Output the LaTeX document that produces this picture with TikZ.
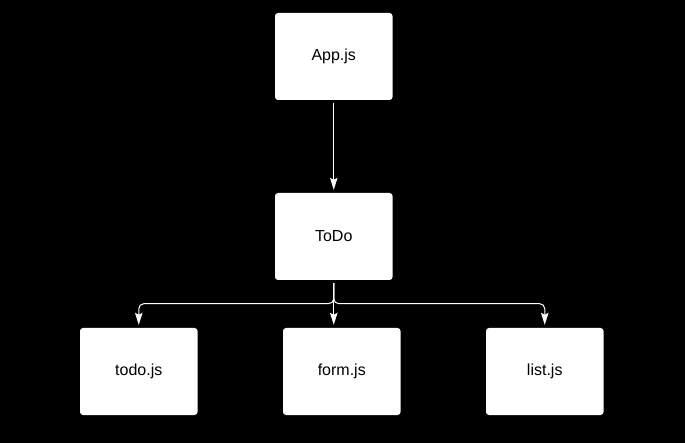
\documentclass[tikz,border=0pt]{standalone}
\usepackage{fontspec}
\setmainfont{Liberation Sans}
\usetikzlibrary{arrows.meta}
\begin{document}
\begin{tikzpicture}[x=1pt,y=-1pt,
  box/.style={draw=none, fill=white, rounded corners=3pt, minimum width=117.5pt, minimum height=87pt, inner sep=0pt, text=black, font=\fontsize{16}{19}\selectfont},
  conn/.style={draw=white, line width=1pt, -{Stealth[length=12pt,width=7.5pt,inset=2pt]}, shorten <=3pt, shorten >=3pt}]
\fill[black] (0,0) rectangle (685,443);
\useasboundingbox (0,0) rectangle (685,443);
\node[box] (app) at (333.75,56.5) {App.js};
\node[box] (todo) at (333.75,236.5) {ToDo};
\node[box] (tjs) at (138.75,371.5) {todo.js};
\node[box] (fjs) at (341.75,371.5) {form.js};
\node[box] (ljs) at (544.75,371.5) {list.js};
\coordinate (J) at (333.75,303.7);
\draw[conn] (app) -- (todo);
\draw[conn, rounded corners=5pt] (todo.south) -- (J) -| (tjs.north);
\draw[conn, rounded corners=5pt] (todo.south) -- (J) -| (ljs.north);
\draw[conn] (todo.south) -- (todo.south |- fjs.north);
\end{tikzpicture}
\end{document}
